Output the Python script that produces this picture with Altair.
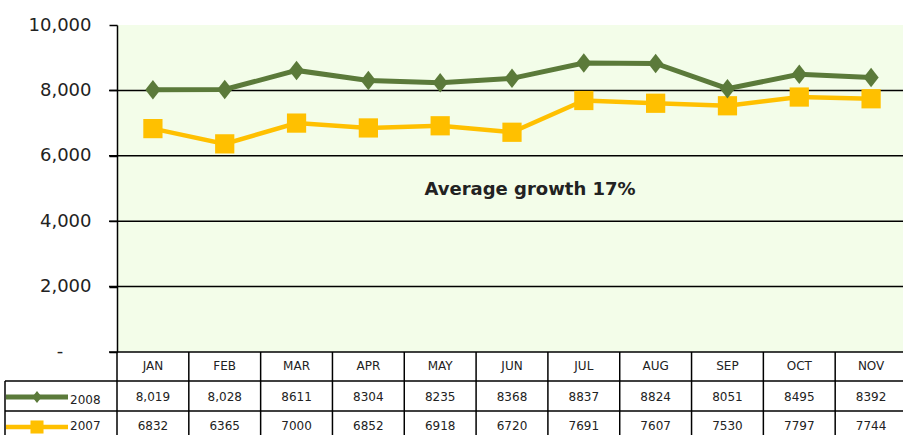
import altair as alt
import pandas as pd

months = ["JAN", "FEB", "MAR", "APR", "MAY", "JUN", "JUL", "AUG", "SEP", "OCT", "NOV"]
v2008 = [8019, 8028, 8611, 8304, 8235, 8368, 8837, 8824, 8051, 8495, 8392]
v2007 = [6832, 6365, 7000, 6852, 6918, 6720, 7691, 7607, 7530, 7797, 7744]
labels2008 = ["8,019", "8,028", "8611", "8304", "8235", "8368", "8837", "8824", "8051", "8495", "8392"]
labels2007 = ["6832", "6365", "7000", "6852", "6918", "6720", "7691", "7607", "7530", "7797", "7744"]
y_ticks = [0, 2000, 4000, 6000, 8000, 10000]
grid_vals = [0, 2000, 4000, 6000, 8000]
zero_label = "-"
annotation = "Average growth 17%"

GREEN = "#5b7a3a"
YELLOW = "#ffc000"
BG = "#f3fde9"
FONT = "DejaVu Sans"

W, H = 786, 410
PLOT_BOTTOM = 327

d08 = pd.DataFrame({"month": months, "value": v2008, "label": labels2008})
d07 = pd.DataFrame({"month": months, "value": v2007, "label": labels2007})
one = pd.DataFrame({"a": [0]})

xscale = alt.Scale(domain=months, range=[0, 790], paddingInner=0, paddingOuter=0)
yscale = alt.Scale(domain=[0, 10000], range=[PLOT_BOTTOM, 0], nice=False)

yaxis = alt.Axis(
    values=y_ticks,
    labelExpr="datum.value == 0 ? '' : format(datum.value, ',')",
    labelFontSize=18, labelFont=FONT, labelColor="#222222", labelPadding=18,
    tickColor="black", tickSize=8, tickWidth=1.5, domainColor="black", domainWidth=1.5,
    grid=False, title=None, zindex=1,
)

X = lambda: alt.X("month:N", scale=xscale, axis=None)
Y = lambda f: alt.Y(f, scale=yscale, axis=yaxis)

bg = alt.Chart(one).mark_rect(color=BG).encode(
    x=alt.value(0), x2=alt.value(W), y=alt.value(0), y2=alt.value(PLOT_BOTTOM))

grid = alt.Chart(pd.DataFrame({"v": grid_vals})).mark_rule(color="black", strokeWidth=1.5).encode(
    y=Y("v:Q"), x=alt.value(-8), x2=alt.value(W))

zero = alt.Chart(pd.DataFrame({"v": [0], "t": [zero_label]})).mark_text(
    font=FONT, fontSize=18, color="#222222", align="center", baseline="middle").encode(
    y=Y("v:Q"), x=alt.value(-57), text="t:N")

diamond = "M-0.78,0L0,-1L0.78,0L0,1Z"

line08 = alt.Chart(d08).mark_line(color=GREEN, strokeWidth=5).encode(x=X(), y=Y("value:Q"))
pt08 = alt.Chart(d08).mark_point(filled=True, opacity=1, color=GREEN, shape=diamond, size=380).encode(
    x=X(), y=Y("value:Q"))
line07 = alt.Chart(d07).mark_line(color=YELLOW, strokeWidth=4.5).encode(x=X(), y=Y("value:Q"))
pt07 = alt.Chart(d07).mark_point(filled=True, opacity=1, color=YELLOW, shape="square", size=370).encode(
    x=X(), y=Y("value:Q"))

note = alt.Chart(pd.DataFrame({"t": [annotation]})).mark_text(
    font=FONT, fontSize=18, fontWeight="bold", color="#222222", align="center", baseline="middle"
).encode(x=alt.value(413), y=alt.value(165), text="t:N")

# table
hdr = alt.Chart(pd.DataFrame({"month": months})).mark_text(
    font=FONT, fontSize=12, color="#222222", baseline="middle").encode(
    x=X(), y=alt.value(341), text="month:N")
row08 = alt.Chart(d08).mark_text(font=FONT, fontSize=12, color="#222222", baseline="middle").encode(
    x=X(), y=alt.value(372), text="label:N")
row07 = alt.Chart(d07).mark_text(font=FONT, fontSize=12, color="#222222", baseline="middle").encode(
    x=X(), y=alt.value(401), text="label:N")

vlines = alt.Chart(pd.DataFrame({"month": months})).mark_rule(color="black", strokeWidth=1.5).encode(
    x=alt.X("month:N", scale=xscale, axis=None, bandPosition=0),
    y=alt.value(PLOT_BOTTOM), y2=alt.value(H))
hl1 = alt.Chart(one).mark_rule(color="black", strokeWidth=1.5).encode(
    x=alt.value(-112), x2=alt.value(W), y=alt.value(356))
hl2 = alt.Chart(one).mark_rule(color="black", strokeWidth=1.5).encode(
    x=alt.value(-112), x2=alt.value(W), y=alt.value(386))
lborder = alt.Chart(one).mark_rule(color="black", strokeWidth=1.5).encode(
    x=alt.value(-112), y=alt.value(356), y2=alt.value(H))

leg_rows = []
for yv, ty, col, shp, sz, name, sw in [(372, 375, GREEN, diamond, 150, "2008", 5),
                                       (402, 401, YELLOW, "square", 170, "2007", 4.5)]:
    leg_rows.append(alt.Chart(one).mark_rule(color=col, strokeWidth=sw).encode(
        x=alt.value(-111), x2=alt.value(-49), y=alt.value(yv)))
    leg_rows.append(alt.Chart(one).mark_point(filled=True, opacity=1, color=col, shape=shp, size=sz).encode(
        x=alt.value(-80), y=alt.value(yv)))
    leg_rows.append(alt.Chart(pd.DataFrame({"t": [name]})).mark_text(
        font=FONT, fontSize=12, color="#222222", align="left", baseline="middle").encode(
        x=alt.value(-47), y=alt.value(ty), text="t:N"))

chart = alt.layer(
    bg, grid, zero, line07, pt07, line08, pt08, note, hdr, row08, row07, vlines, hl1, hl2, lborder, *leg_rows
).properties(
    width=W, height=H,
    autosize=alt.AutoSizeParams(type="none"),
    padding={"left": 117, "top": 25, "right": 0, "bottom": 0},
    background="white",
).configure_view(stroke=None)

chart.save("out.html", embed_options={"renderer": "svg", "actions": False})
